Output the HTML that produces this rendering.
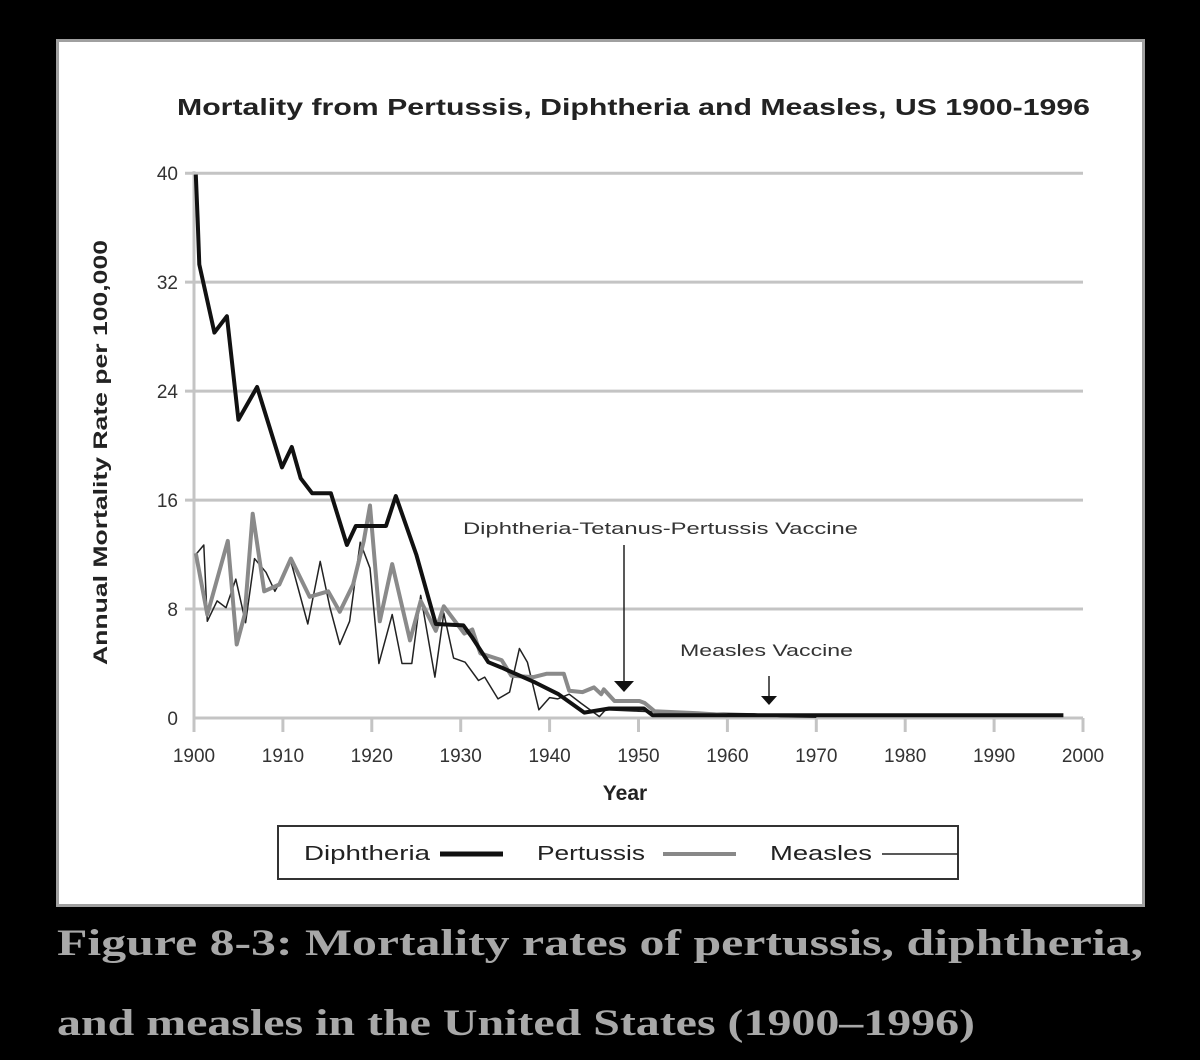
<!DOCTYPE html>
<html><head><meta charset="utf-8"><style>
body{margin:0;width:1200px;height:1060px;background:#000;position:relative;overflow:hidden;font-family:"Liberation Sans",sans-serif}
#panel{position:absolute;left:56px;top:39px;width:1083px;height:862px;background:#fff;border:3px solid #a0a0a0}
</style></head><body>
<div id="panel"></div>
<svg id="chart" width="1200" height="1060" style="position:absolute;left:0;top:0">
<text x="177" y="115" font-size="23" font-weight="bold" fill="#222" textLength="913" lengthAdjust="spacingAndGlyphs">Mortality from Pertussis, Diphtheria and Measles, US 1900-1996</text>
<text transform="translate(107,665) rotate(-90)" font-size="19" font-weight="bold" fill="#222" textLength="425" lengthAdjust="spacingAndGlyphs">Annual Mortality Rate per 100,000</text>
<text x="625" y="800" text-anchor="middle" font-size="21" font-weight="bold" fill="#222">Year</text>
<g id="grid"></g><g id="axes"></g><g id="series"></g>
<text x="463" y="534" font-size="17" fill="#333" textLength="395" lengthAdjust="spacingAndGlyphs">Diphtheria-Tetanus-Pertussis Vaccine</text>
<line x1="624" y1="545" x2="624" y2="683" stroke="#222" stroke-width="1.5"/>
<polygon points="614,681 634,681 624,692" fill="#111"/>
<text x="680" y="656" font-size="17" fill="#333" textLength="173" lengthAdjust="spacingAndGlyphs">Measles Vaccine</text>
<line x1="769" y1="676" x2="769" y2="700" stroke="#222" stroke-width="1.5"/>
<polygon points="761,696 777,696 769,705" fill="#111"/>
<g>
<rect x="278" y="826" width="680" height="53" fill="#fff" stroke="#333" stroke-width="2"/>
<text x="304" y="860" font-size="20" fill="#222" textLength="126" lengthAdjust="spacingAndGlyphs">Diphtheria</text>
<line x1="440" y1="854" x2="503" y2="854" stroke="#111" stroke-width="5"/>
<text x="537" y="860" font-size="20" fill="#222" textLength="108" lengthAdjust="spacingAndGlyphs">Pertussis</text>
<line x1="663" y1="854" x2="736" y2="854" stroke="#888" stroke-width="4"/>
<text x="770" y="860" font-size="20" fill="#222" textLength="102" lengthAdjust="spacingAndGlyphs">Measles</text>
<line x1="882" y1="854" x2="958" y2="854" stroke="#222" stroke-width="1.5"/>
</g>
<text x="57" y="955" font-family="Liberation Serif, serif" font-weight="bold" font-size="37" fill="#a8a8a8" textLength="1086" lengthAdjust="spacingAndGlyphs">Figure 8-3: Mortality rates of pertussis, diphtheria,</text>
<text x="57" y="1035" font-family="Liberation Serif, serif" font-weight="bold" font-size="37" fill="#a8a8a8" textLength="918" lengthAdjust="spacingAndGlyphs">and measles in the United States (1900–1996)</text>
</svg>
<script>
const yTicks=[0,8,16,24,32,40];
const xTicks=[1900,1910,1920,1930,1940,1950,1960,1970,1980,1990,2000];
const diphYears=[1900.2,1900.4,1900.6,1902.3,1903.7,1905,1907.1,1909.9,1911,1912,1913.3,1915.4,1917.2,1918.2,1921.6,1922.7,1925,1927.2,1930.3,1931.3,1933.1,1934.6,1938.4,1941,1943.9,1946.7,1950.6,1951.6,1960,1970,1980,1990,1997.8];
const diphValues=[39.9,36.7,33.3,28.3,29.5,21.9,24.3,18.4,19.9,17.6,16.5,16.5,12.7,14.1,14.1,16.3,12,6.9,6.8,5.9,4.1,3.7,2.6,1.75,0.4,0.7,0.7,0.2,0.2,0.2,0.2,0.2,0.2];
const pertYears=[1900.2,1901.5,1903.8,1904.8,1905.7,1906.6,1907.9,1909.6,1910.9,1913,1915.1,1916.4,1917.9,1919.1,1919.8,1920.9,1922.3,1924.3,1925.5,1927.2,1928.1,1930.4,1931.3,1932.2,1934.6,1935.7,1938.2,1939.7,1941.6,1942.2,1943.7,1945,1945.8,1946.1,1947.3,1950.1,1950.7,1951.8,1956.7,1960];
const pertValues=[12.1,7.6,13,5.4,7.6,15,9.3,9.8,11.7,8.9,9.3,7.8,9.8,13,15.6,7.1,11.3,5.7,8.6,6.4,8.2,6.2,6.5,4.75,4.25,3.1,3,3.25,3.25,2,1.9,2.25,1.75,2.1,1.25,1.25,1.1,0.5,0.35,0.2];
const measYears=[1900.2,1901.1,1901.5,1902.6,1903.6,1904.7,1905.8,1906.8,1908.1,1909.1,1910.9,1912.8,1914.2,1915.3,1916.4,1917.5,1918.7,1919.8,1920.8,1922.3,1923.4,1924.5,1925.5,1927.1,1928.1,1929.2,1930.5,1932,1932.7,1934.2,1935.5,1936.6,1937.5,1938.8,1940,1940.9,1942.2,1943.5,1945.6,1946.3,1950,1955,1963,1966,1970];
const measValues=[12,12.7,7.1,8.6,8.1,10.2,7,11.7,10.7,9.3,11.5,6.9,11.5,8.1,5.4,7.1,12.9,11,4,7.6,4,4,9,3,7.7,4.4,4.1,2.75,3,1.4,1.9,5.1,4.1,0.6,1.5,1.4,1.75,1.1,0.1,0.6,0.5,0.4,0.3,0.1,0.05];
const NS='http://www.w3.org/2000/svg';
const X=y=>194+(y-1900)*8.89, Y=v=>718-v*13.62;
const grid=document.getElementById('grid'),axes=document.getElementById('axes'),ser=document.getElementById('series');
function mk(tag,attrs,parent){const e=document.createElementNS(NS,tag);for(const k in attrs)e.setAttribute(k,attrs[k]);parent.appendChild(e);return e;}
yTicks.forEach(t=>{
 if(t>0){const g=mk('line',{x1:185,x2:1083,y1:Y(t),y2:Y(t),stroke:'#c4c4c4','stroke-width':3},grid);
 
 }
 const l=mk('text',{x:178,y:Y(t)+7,'text-anchor':'end','font-size':19,fill:'#333'},axes);l.textContent=t;
 
 
});
const ax=mk('path',{d:`M194,${Y(40)-2} V718 H1083`,fill:'none',stroke:'#c4c4c4','stroke-width':3},axes);


xTicks.forEach(t=>{
 const tk=mk('line',{x1:X(t),x2:X(t),y1:718,y2:732,stroke:'#c4c4c4','stroke-width':3},axes);
 
 
 const l=mk('text',{x:X(t),y:762,'text-anchor':'middle','font-size':19,fill:'#333'},axes);l.textContent=t;
 
 
});
function line(xs,vs,stroke,w,name){
 const d=xs.map((x,i)=>(i?'L':'M')+X(x).toFixed(1)+','+Y(vs[i]).toFixed(1)).join(' ');
 const p=mk('path',{d:d,fill:'none',stroke:stroke,'stroke-width':w,'stroke-linejoin':'round'},ser);
 
 
}
line(measYears,measValues,'#222',1.5,'measles-line');
line(pertYears,pertValues,'#8a8a8a',4,'pertussis-line');
line(diphYears,diphValues,'#111',4,'diphtheria-line');
</script>
</body></html>
